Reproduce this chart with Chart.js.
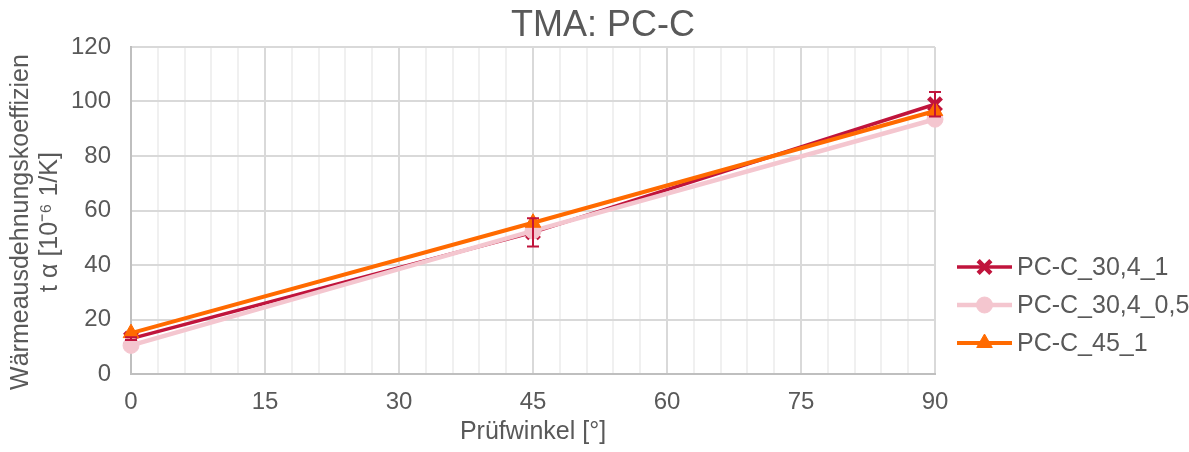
<!DOCTYPE html>
<html>
<head>
<meta charset="utf-8">
<script src="https://cdn.jsdelivr.net/npm/chart.js@4/dist/chart.umd.min.js"></script>
<style>
  html, body { margin: 0; padding: 0; background: #fff; }
  #wrap { width: 1189px; height: 452px; position: relative; }
</style>
</head>
<body>
<div id="wrap"><canvas id="tmaChart"></canvas></div>
<script>
"use strict";

// Prüfwinkel [°]
const angles = [0, 45, 90];
const seriesNames = ['PC-C_30,4_1', 'PC-C_30,4_0,5', 'PC-C_45_1'];
// Wärmeausdehnungskoeffizient [10^-6 1/K]
const pcC_30_4_1 = [13, 52, 99];
const pcC_30_4_1_err = [0.5, 5.2, 4.5];
const pcC_30_4_05 = [10.5, 52.5, 93.5];
const pcC_45_1 = [15, 55.5, 96.5];
const xLabelStep = 15;
const yMax = 120;
const yStep = 20;

const FONT = "'Liberation Sans', Arial, sans-serif";
const TEXT = '#595959';
const colors = ['#C0143C', '#F4C6CF', '#FF6A00'];
const styles = ['crossRot', 'circle', 'triangle'];
const radii = [9, 8, 9];
const markerBorders = [4.5, 1, 1];
const lineWidths = [3.5, 4.5, 4];

function points(values) {
  return angles.map(function (a, i) { return { x: a, y: values[i] }; });
}

function makeDataset(i, values) {
  return {
    label: seriesNames[i],
    data: points(values),
    borderColor: colors[i],
    backgroundColor: colors[i],
    borderWidth: lineWidths[i],
    pointStyle: styles[i],
    pointRadius: radii[i],
    pointHoverRadius: radii[i],
    pointBorderWidth: markerBorders[i],
    pointBorderColor: colors[i],
    pointBackgroundColor: colors[i],
    order: 2 - i,
    clip: false,
    tension: 0
  };
}

// error bars for the first series
const errorBars = {
  id: 'errorBars',
  afterDatasetsDraw(chart) {
    const meta = chart.getDatasetMeta(0);
    const y = chart.scales.y;
    const ctx = chart.ctx;
    ctx.save();
    ctx.strokeStyle = colors[0];
    ctx.lineWidth = 2;
    meta.data.forEach(function (pt, i) {
      const v = pcC_30_4_1[i], e = pcC_30_4_1_err[i];
      const top = y.getPixelForValue(v + e);
      const bot = y.getPixelForValue(v - e);
      ctx.beginPath();
      ctx.moveTo(pt.x, top); ctx.lineTo(pt.x, bot);
      ctx.moveTo(pt.x - 6, top); ctx.lineTo(pt.x + 6, top);
      ctx.moveTo(pt.x - 6, bot); ctx.lineTo(pt.x + 6, bot);
      ctx.stroke();
    });
    ctx.restore();
  }
};

// title, y axis title and the legend on the right
const decorations = {
  id: 'decorations',
  afterDraw(chart) {
    const ctx = chart.ctx;
    ctx.save();
    ctx.fillStyle = TEXT;

    ctx.font = '36px ' + FONT;
    ctx.textAlign = 'center';
    ctx.textBaseline = 'alphabetic';
    ctx.fillText('TMA: PC-C', 603, 36);

    ctx.save();
    ctx.translate(0, 222);
    ctx.rotate(-Math.PI / 2);
    ctx.font = '25px ' + FONT;
    ctx.textBaseline = 'middle';
    ctx.fillText('Wärmeausdehnungskoeffizien', 0, 21);
    ctx.fillText('t α [10⁻⁶ 1/K]', 0, 50);
    ctx.restore();

    const rows = [267, 305, 343];
    ctx.font = '25px ' + FONT;
    ctx.textAlign = 'left';
    ctx.textBaseline = 'middle';
    chart.data.datasets.forEach(function (ds, i) {
      const ry = rows[i];
      ctx.strokeStyle = colors[i];
      ctx.lineWidth = lineWidths[i];
      ctx.beginPath();
      ctx.moveTo(957, ry); ctx.lineTo(1012, ry);
      ctx.stroke();
      ctx.fillStyle = colors[i];
      ctx.strokeStyle = colors[i];
      ctx.lineWidth = markerBorders[i];
      Chart.helpers.drawPoint(ctx, { pointStyle: styles[i], radius: radii[i], rotation: 0, borderWidth: markerBorders[i] }, 984.5, ry);
      ctx.fillStyle = TEXT;
      ctx.fillText(ds.label, 1017, ry + 1);
    });
    ctx.restore();
  }
};

new Chart(document.getElementById('tmaChart').getContext('2d'), {
  type: 'line',
  data: {
    datasets: [
      makeDataset(0, pcC_30_4_1),
      makeDataset(1, pcC_30_4_05),
      makeDataset(2, pcC_45_1)
    ]
  },
  options: {
    responsive: true,
    maintainAspectRatio: false,
    animation: false,
    layout: { padding: { top: 47, right: 254, left: 0, bottom: 0 } },
    plugins: {
      legend: { display: false },
      title: { display: false },
      tooltip: { enabled: false }
    },
    scales: {
      x: {
        type: 'linear',
        min: 0,
        max: 90,
        afterFit: function (s) { s.height = 78; },
        ticks: {
          stepSize: 3,
          autoSkip: false,
          maxRotation: 0,
          padding: 14,
          color: TEXT,
          font: { family: FONT, size: 24 },
          callback: function (v) { return v % xLabelStep === 0 ? v : ''; }
        },
        grid: {
          drawTicks: false,
          lineWidth: 2,
          color: function (c) { return c.tick && c.tick.value % xLabelStep === 0 ? '#d9d9d9' : '#f0f0f0'; }
        },
        border: { color: '#bfbfbf', width: 2 },
        title: {
          display: true,
          text: 'Prüfwinkel [°]',
          color: TEXT,
          font: { family: FONT, size: 25 },
          padding: { top: 0, bottom: 5 }
        }
      },
      y: {
        min: 0,
        max: yMax,
        afterFit: function (s) { s.width = 131; },
        ticks: {
          stepSize: yStep,
          padding: 20,
          color: TEXT,
          font: { family: FONT, size: 24 }
        },
        grid: { drawTicks: false, lineWidth: 2, color: '#d9d9d9' },
        border: { color: '#bfbfbf', width: 2 }
      }
    }
  },
  plugins: [errorBars, decorations]
});
</script>
</body>
</html>
